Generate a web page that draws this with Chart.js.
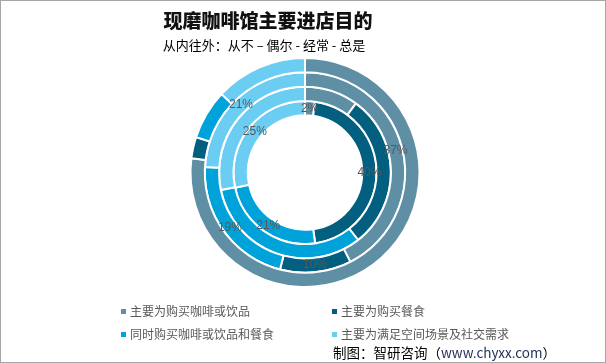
<!DOCTYPE html>
<html>
<head>
<meta charset="utf-8">
<script src="https://cdn.jsdelivr.net/npm/chart.js@4/dist/chart.umd.min.js"></script>
<style>
  body { margin: 0; background: #fff; }
  #wrap { position: relative; width: 606px; height: 363px; overflow: hidden; font-family: "Noto Sans CJK SC", sans-serif; }
  #frame { position: absolute; left: 0; top: 0; width: 606px; height: 363px; box-sizing: border-box; border: 1px solid #a6a6a6; pointer-events: none; }
  canvas { position: absolute; left: 0; top: 0; }
  .title { position: absolute; left: 0; width: 536px; text-align: center; top: 6px; font-size: 19px; font-weight: 900; color: #111; font-family: "Noto Sans CJK SC", serif; }
  .sub { position: absolute; left: 0; width: 528px; text-align: center; top: 35px; font-size: 13px; color: #000; }
  .leg { position: absolute; font-size: 12px; color: #595959; line-height: 14px; white-space: nowrap; }
  .leg i { display: inline-block; width: 5px; height: 5px; margin-right: 4px; vertical-align: middle; position: relative; top: -1px; }
  .src { position: absolute; left: 333px; top: 343px; font-size: 13.5px; color: #000; white-space: nowrap; line-height: 18px; }
  .src span { color: #1c2f55; }
</style>
</head>
<body>
<div id="wrap">
  <canvas id="ring" width="606" height="363"></canvas>
  <div class="title">现磨咖啡馆主要进店目的</div>
  <div class="sub">从内往外：从不 – 偶尔 - 经常 - 总是</div>
  <div id="legend"></div>
  <div class="src">制图：智研咨询（<span>www.chyxx.com</span>）</div>
  <div id="frame"></div>
</div>
<script>
const categories = ['主要为购买咖啡或饮品', '主要为购买餐食', '同时购买咖啡或饮品和餐食', '主要为满足空间场景及社交需求'];
const colors = ['#5f8fa5', '#035f7f', '#00a2da', '#6bcdf2'];

// rings, inner to outer
const never = [2, 40, 21, 25];
const sometimes = [10, 29, 32, 28];
const often = [37, 10, 19, 21];
const always = [77, 3, 7, 13];

// only these rings carry labels in the original
const labelledRings = ['从不', '经常'];

const legendPos = [[121, 304], [332, 304], [121, 327], [332, 327]];
const legendEl = document.getElementById('legend');
categories.forEach((c, i) => {
  const d = document.createElement('div');
  d.className = 'leg';
  d.style.left = legendPos[i][0] + 'px';
  d.style.top = legendPos[i][1] + 'px';
  d.innerHTML = '<i style="background:' + colors[i] + '"></i>' + c;
  legendEl.appendChild(d);
});

const arcLabels = {
  id: 'arcLabels',
  afterDatasetsDraw(chart) {
    const ctx = chart.ctx;
    ctx.save();
    ctx.font = '12px "Liberation Sans", Arial, sans-serif';
    ctx.fillStyle = '#595959';
    ctx.textAlign = 'center';
    ctx.textBaseline = 'middle';
    chart.data.datasets.forEach((ds, di) => {
      if (!labelledRings.includes(ds.label)) return;
      chart.getDatasetMeta(di).data.forEach((arc, i) => {
        const p = arc.tooltipPosition();
        ctx.fillText(ds.data[i] + '%', p.x, p.y);
      });
    });
    ctx.restore();
  }
};

const data = {
  labels: categories,
  datasets: [
    { label: '总是', data: always },
    { label: '经常', data: often },
    { label: '偶尔', data: sometimes },
    { label: '从不', data: never }
  ].map(ds => Object.assign(ds, {
    backgroundColor: colors,
    borderColor: '#ffffff',
    borderWidth: 2
  }))
};

new Chart(document.getElementById('ring').getContext('2d'), {
  type: 'doughnut',
  data: data,
  options: {
    responsive: false,
    animation: false,
    cutout: '50%',
    layout: { padding: { top: 57, bottom: 75, left: 4, right: 0 } },
    plugins: {
      legend: { display: false },
      title: { display: false },
      tooltip: { enabled: false }
    }
  },
  plugins: [arcLabels]
});
</script>
</body>
</html>
